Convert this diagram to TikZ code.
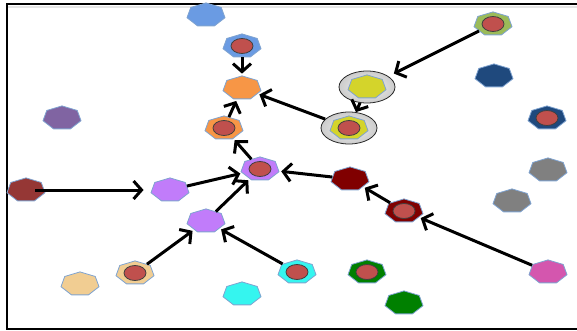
\documentclass[tikz,border=0pt]{standalone}
\usepackage{tikz}
\usepackage{xcolor}
\usetikzlibrary{shapes.geometric, arrows.meta}
\definecolor{skyblue}{HTML}{6A9BE3}
\definecolor{carrot}{HTML}{F79646}
\definecolor{plum}{HTML}{8064A2}
\definecolor{olive}{HTML}{9BBB59}
\definecolor{lemon}{HTML}{D4D42B}
\definecolor{navy}{HTML}{1F497D}
\definecolor{stone}{HTML}{808080}
\definecolor{brick}{HTML}{953735}
\definecolor{violet}{HTML}{C17CFA}
\definecolor{maroon}{HTML}{800000}
\definecolor{pink}{HTML}{D456AE}
\definecolor{sand}{HTML}{F1CD92}
\definecolor{aqua}{HTML}{35F5EF}
\definecolor{leaf}{HTML}{008000}
\definecolor{seedred}{HTML}{C0504D}
\definecolor{rim}{HTML}{7FA3D0}
\tikzstyle{hepta} = [regular polygon, regular polygon sides=7, minimum size=39pt, inner sep=0pt, yscale=0.62, draw=rim, line width=0.8pt]
\tikzstyle{seed} = [ellipse, minimum width=22pt, minimum height=15pt, inner sep=0pt, fill=seedred, draw=black!75, line width=0.8pt]
\tikzstyle{halo} = [ellipse, minimum width=56pt, minimum height=32pt, draw=black!85, line width=0.8pt, inner color=gray!10, outer color=gray!40]
\tikzstyle{arrow} = [line width=3pt, -{Straight Barb[length=8pt,width=18pt]}, shorten >=2pt]

\begin{document}
\begin{tikzpicture}[x=1pt, y=-1pt]
	\useasboundingbox (0,0) rectangle (577,331);
	\draw[line width=1.2pt] (577,4) -- (7,4) -- (7,329) -- (577,329);
	\draw[gray!20, line width=2pt] (8,7) -- (577,7);
	
	% Halos
	\node (h1) [halo] at (367,87) {};
	\node (h2) [halo] at (349,128) {};
	
	% Nodes
	\node (b1) [hepta, fill=skyblue] at (206,15) {};
	\node (b2) [hepta, fill=skyblue] at (242,46) {};
	\node (o1) [hepta, fill=carrot] at (242,88) {};
	\node (p1) [hepta, fill=plum] at (62,118) {};
	\node (o2) [hepta, fill=carrot] at (224,128) {};
	\node (g1) [hepta, fill=olive] at (493,24) {};
	\node (y1) [hepta, fill=lemon] at (367,87) {};
	\node (y2) [hepta, fill=lemon] at (349,128) {};
	\node (n1) [hepta, fill=navy] at (494,76) {};
	\node (n2) [hepta, fill=navy] at (547,118) {};
	\node (s1) [hepta, fill=stone] at (548,170) {};
	\node (s2) [hepta, fill=stone] at (512,201) {};
	\node (r1) [hepta, fill=brick] at (26,190) {};
	\node (v1) [hepta, fill=violet] at (170,190) {};
	\node (v2) [hepta, fill=violet] at (260,169) {};
	\node (v3) [hepta, fill=violet] at (206,221) {};
	\node (m1) [hepta, fill=maroon] at (350,179) {};
	\node (m2) [hepta, fill=maroon] at (404,211) {};
	\node (k1) [hepta, fill=pink] at (548,272) {};
	\node (t1) [hepta, fill=sand] at (80,284) {};
	\node (t2) [hepta, fill=sand] at (135,273) {};
	\node (c1) [hepta, fill=aqua] at (242,294) {};
	\node (c2) [hepta, fill=aqua] at (297,272) {};
	\node (l1) [hepta, fill=leaf] at (367,272) {};
	\node (l2) [hepta, fill=leaf] at (404,303) {};
	
	% Seeds
	\node (sb2) [seed] at (b2) {};
	\node (so2) [seed] at (o2) {};
	\node (sg1) [seed] at (g1) {};
	\node (sy2) [seed] at (y2) {};
	\node (sn2) [seed] at (n2) {};
	\node (sv2) [seed] at (v2) {};
	\node (sm2) [seed] at (m2) {};
	\node (st2) [seed] at (t2) {};
	\node (sc2) [seed] at (c2) {};
	\node (sl1) [seed] at (l1) {};
	
	% Arrows
	\draw [arrow] (b2) -- (o1);
	\draw [arrow] (o2) -- (o1);
	\draw [arrow] (h2) -- (o1);
	\draw [arrow, shorten >=6pt] (g1) -- (h1);
	\draw [arrow, shorten >=0pt] (h1) -- (h2);
	\draw [arrow] (v2) -- (o2);
	\draw [arrow, shorten <=9pt, shorten >=8pt] (r1.center) -- (v1);
	\draw [arrow] (v1) -- (v2);
	\draw [arrow] (v3) -- (v2);
	\draw [arrow] (m1) -- (v2);
	\draw [arrow] (m2) -- (m1);
	\draw [arrow] (k1) -- (m2);
	\draw [arrow] (t2) -- (v3);
	\draw [arrow] (c2) -- (v3);
	
\end{tikzpicture}
\end{document}
